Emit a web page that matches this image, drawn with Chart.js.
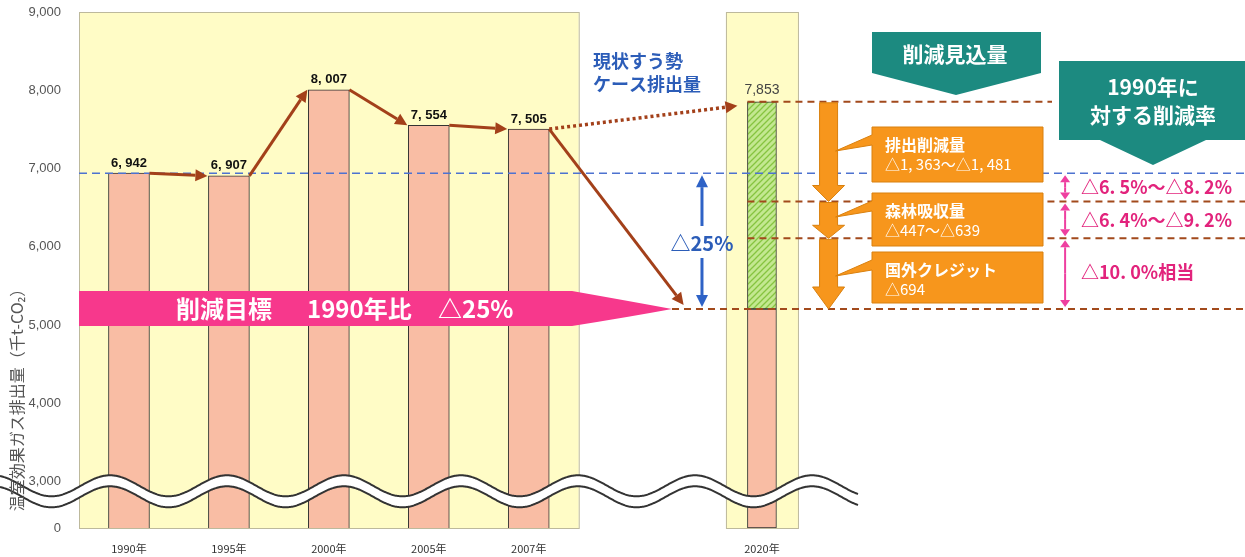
<!DOCTYPE html>
<html lang="ja">
<head>
<meta charset="utf-8">
<script src="https://cdn.jsdelivr.net/npm/chart.js@4.4.0/dist/chart.umd.min.js"></script>
<style>
html, body { margin: 0; padding: 0; background: #fff; }
#wrap { width: 1245px; height: 557px; position: relative; }
</style>
</head>
<body>
<div id="wrap"><canvas id="chart"></canvas></div>
<script>
// ---- data ----
const years = ['1990年', '1995年', '2000年', '2005年', '2007年', '2020年'];
const emissions = [6942, 6907, 8007, 7554, 7505, 7853];
const target2020 = 5207;                      // 1990 x 0.75
const stepLevels = [7853, 6580, 6110, 5207];  // levels after each reduction step
const stepNames = ['排出削減量', '森林吸収量', '国外クレジット'];
const stepAmounts = ['△1, 363～△1, 481', '△447～△639', '△694'];
const rateTexts = ['△6. 5%～△8. 2%', '△6. 4%～△9. 2%', '△10. 0%相当'];
const yTicks = [3000, 4000, 5000, 6000, 7000, 8000, 9000];
const yMin = 2410;   // bottom of the broken axis, labelled 0

// x axis is cut in thin slots so the 2020 column can sit apart
const SLOTS = 35;
const slotOf = years.map((_, i) => (i < 5 ? 1 + 3 * i : 20));
const labels = new Array(SLOTS).fill('');
slotOf.forEach((s, i) => { labels[s] = years[i]; });

const pastData = new Array(SLOTS).fill(null);
for (let i = 0; i < 5; i++) pastData[slotOf[i]] = emissions[i];
const baseData = new Array(SLOTS).fill(null);
baseData[slotOf[5]] = [yMin, target2020];
const upperData = new Array(SLOTS).fill(null);
upperData[slotOf[5]] = [target2020, emissions[5]];

const JP = '"Noto Sans CJK JP", "Noto Sans", sans-serif';

function hatch() {
  const c = document.createElement('canvas');
  c.width = 6; c.height = 6;
  const g = c.getContext('2d');
  g.fillStyle = '#C3E890';
  g.fillRect(0, 0, 6, 6);
  g.strokeStyle = '#86C440';
  g.lineWidth = 1.3;
  g.beginPath();
  g.moveTo(-1, 7); g.lineTo(7, -1);
  g.moveTo(-4, 4); g.lineTo(4, -4);
  g.moveTo(2, 10); g.lineTo(10, 2);
  g.stroke();
  return g.createPattern(c, 'repeat');
}

function arrow(ctx, x1, y1, x2, y2, o) {
  const a = Math.atan2(y2 - y1, x2 - x1);
  const bx = x2 - o.head * Math.cos(a), by = y2 - o.head * Math.sin(a);
  ctx.save();
  ctx.strokeStyle = o.color;
  ctx.fillStyle = o.color;
  ctx.lineWidth = o.width;
  ctx.setLineDash(o.dash || []);
  ctx.beginPath(); ctx.moveTo(x1, y1); ctx.lineTo(bx, by); ctx.stroke();
  ctx.setLineDash([]);
  ctx.beginPath();
  ctx.moveTo(x2, y2);
  ctx.lineTo(bx + o.hw * Math.sin(a), by - o.hw * Math.cos(a));
  ctx.lineTo(bx - o.hw * Math.sin(a), by + o.hw * Math.cos(a));
  ctx.closePath(); ctx.fill();
  ctx.restore();
}

function hline(ctx, x1, x2, y, color, w, dash) {
  ctx.save();
  ctx.strokeStyle = color; ctx.lineWidth = w; ctx.setLineDash(dash);
  ctx.beginPath(); ctx.moveTo(x1, y); ctx.lineTo(x2, y); ctx.stroke();
  ctx.restore();
}

const deco = {
  id: 'deco',
  beforeDatasetsDraw(chart) {
    const { ctx, chartArea: ca } = chart;
    const step = ca.width / SLOTS;
    const xAt = s => ca.left + (s + 0.5) * step;
    ctx.save();
    ctx.fillStyle = '#FFFCC6';
    ctx.strokeStyle = '#BDB99C';
    ctx.lineWidth = 1;
    // past years column
    const r1 = ca.left + 15 * step;
    ctx.fillRect(ca.left, ca.top, r1 - ca.left, ca.bottom - ca.top);
    ctx.strokeRect(ca.left + 0.5, ca.top + 0.5, r1 - ca.left, ca.bottom - ca.top);
    // 2020 column
    const c2 = xAt(slotOf[5]);
    ctx.fillRect(c2 - 36, ca.top, 72, ca.bottom - ca.top);
    ctx.strokeRect(c2 - 36 + 0.5, ca.top + 0.5, 72, ca.bottom - ca.top);
    ctx.restore();
  },
  afterDatasetsDraw(chart) {
    const { ctx, chartArea: ca, scales: { y } } = chart;
    const step = ca.width / SLOTS;
    const xAt = s => ca.left + (s + 0.5) * step;
    const bars = chart.getDatasetMeta(0).data;
    const top2020 = chart.getDatasetMeta(2).data[slotOf[5]];
    const yBase = y.getPixelForValue(emissions[0]);
    const yT = y.getPixelForValue(target2020);
    const lv = stepLevels.map(v => y.getPixelForValue(v));
    const brown = '#A3401A';

    // 1990 reference line
    hline(ctx, ca.left, ca.right, yBase, '#4D72D0', 1.5, [8, 5]);

    // dashed step levels
    const bx0 = top2020.x - top2020.width / 2;
    hline(ctx, bx0, 1052, lv[0], '#A24A1C', 2, [7, 5]);
    hline(ctx, bx0, ca.right, lv[1], '#A24A1C', 2, [7, 5]);
    hline(ctx, bx0, ca.right, lv[2], '#A24A1C', 2, [7, 5]);
    hline(ctx, xAt(17.3), ca.right, lv[3], '#A24A1C', 2, [7, 5]);

    // pink target banner
    ctx.save();
    ctx.fillStyle = '#F7388C';
    ctx.beginPath();
    ctx.moveTo(ca.left, yT - 18);
    ctx.lineTo(xAt(14.3), yT - 18);
    ctx.quadraticCurveTo(xAt(16), yT - 8, xAt(17.3), yT);
    ctx.quadraticCurveTo(xAt(16), yT + 8, xAt(14.3), yT + 17);
    ctx.lineTo(ca.left, yT + 17);
    ctx.closePath();
    ctx.fill();
    ctx.fillStyle = '#fff';
    ctx.font = 'bold 24px ' + JP;
    ctx.textBaseline = 'middle';
    ctx.textAlign = 'left';
    ctx.fillText('削減目標', 176, yT);
    ctx.fillText('1990年比', 307, yT);
    ctx.fillText('△25%', 438, yT);
    ctx.restore();

    // brown trend arrows between bars
    const bo = { color: brown, width: 3, head: 12, hw: 6 };
    for (let i = 0; i < 4; i++) {
      const a = bars[slotOf[i]], b = bars[slotOf[i + 1]];
      arrow(ctx, a.x + a.width / 2, a.y, b.x - b.width / 2 - 1, b.y, bo);
    }
    const last = bars[slotOf[4]];
    arrow(ctx, last.x + last.width / 2, last.y, bx0 - 10, top2020.y + 4,
      { color: brown, width: 3.5, head: 12, hw: 6, dash: [3, 3] });
    arrow(ctx, last.x + last.width / 2, last.y, xAt(17.65), yT - 4, bo);

    // value labels
    ctx.save();
    ctx.fillStyle = '#111';
    ctx.font = 'bold 13px "Liberation Sans Narrow", "Liberation Sans", sans-serif';
    ctx.textAlign = 'center';
    ctx.textBaseline = 'middle';
    for (let i = 0; i < 5; i++) {
      const b = bars[slotOf[i]];
      ctx.fillText(emissions[i].toLocaleString('en-US').replace(',', ', '), b.x, b.y - 10);
    }
    ctx.fillStyle = '#444';
    ctx.font = '14px "Liberation Sans", sans-serif';
    ctx.fillText(emissions[5].toLocaleString('en-US'), top2020.x, top2020.y - 12);
    ctx.restore();

    // blue "business as usual" text
    ctx.save();
    ctx.fillStyle = '#2C5DB8';
    ctx.font = 'bold 18px ' + JP;
    ctx.textBaseline = 'middle';
    ctx.fillText('現状すう勢', 593, 61);
    ctx.fillText('ケース排出量', 593, 84);
    // △25% double arrow
    const ba = { color: '#2E62C6', width: 3, head: 12, hw: 6 };
    const ax = xAt(18.2);
    arrow(ctx, ax, 226, ax, yBase + 2, ba);
    arrow(ctx, ax, 258, ax, yT - 2, ba);
    ctx.font = 'bold 20px ' + JP;
    ctx.textAlign = 'center';
    ctx.fillText('△25%', ax, 243);
    ctx.restore();

    // orange step arrows + callout boxes
    const ox = xAt(22);
    const heads = [16, 13, 22];
    const boxes = [[127, 182], [193, 246], [252, 303]];
    ctx.save();
    ctx.fillStyle = '#F7961C';
    ctx.strokeStyle = '#D9800E';
    ctx.lineWidth = 1;
    for (let i = 0; i < 3; i++) {
      const t = lv[i] + 1, b = lv[i + 1], hs = b - heads[i];
      ctx.beginPath();
      ctx.moveTo(ox - 9, t); ctx.lineTo(ox + 9, t); ctx.lineTo(ox + 9, hs);
      ctx.lineTo(ox + 16, hs); ctx.lineTo(ox, b); ctx.lineTo(ox - 16, hs);
      ctx.lineTo(ox - 9, hs); ctx.closePath();
      ctx.fill(); ctx.stroke();
    }
    for (let i = 0; i < 3; i++) {
      const [t, b] = boxes[i];
      ctx.beginPath();
      ctx.moveTo(872, t); ctx.lineTo(1043, t); ctx.lineTo(1043, b); ctx.lineTo(872, b);
      ctx.lineTo(872, t + 18); ctx.lineTo(ox + 7, t + 24); ctx.lineTo(872, t + 8);
      ctx.closePath();
      ctx.fill(); ctx.stroke();
    }
    ctx.fillStyle = '#fff';
    ctx.textBaseline = 'middle';
    for (let i = 0; i < 3; i++) {
      const t = boxes[i][0];
      ctx.font = 'bold 16px ' + JP;
      ctx.fillText(stepNames[i], 885, t + 18);
      ctx.font = '15px ' + JP;
      ctx.fillText(stepAmounts[i], 885, t + 37);
    }
    ctx.restore();

    // teal header arrows
    ctx.save();
    ctx.fillStyle = '#1C8A80';
    ctx.beginPath();
    ctx.moveTo(872, 32); ctx.lineTo(1041, 32); ctx.lineTo(1041, 73);
    ctx.lineTo(956, 95); ctx.lineTo(872, 73); ctx.closePath(); ctx.fill();
    ctx.beginPath();
    ctx.moveTo(1059, 61); ctx.lineTo(1250, 61); ctx.lineTo(1250, 140);
    ctx.lineTo(1206, 140); ctx.lineTo(1153, 165); ctx.lineTo(1100, 140);
    ctx.lineTo(1059, 140); ctx.closePath(); ctx.fill();
    ctx.fillStyle = '#fff';
    ctx.font = 'bold 21px ' + JP;
    ctx.textAlign = 'center';
    ctx.textBaseline = 'middle';
    ctx.fillText('削減見込量', 955, 54);
    ctx.fillText('1990年に', 1153, 87);
    ctx.fillText('対する削減率', 1153, 115);
    ctx.restore();

    // pink rate arrows and texts
    const px = xAt(29.1);
    const pa = { color: '#EE3FA0', width: 2, head: 7, hw: 5 };
    const spans = [[yBase, lv[1]], [lv[1], lv[2]], [lv[2], lv[3]]];
    ctx.save();
    ctx.fillStyle = '#E2237C';
    ctx.font = 'bold 18px ' + JP;
    ctx.textBaseline = 'middle';
    spans.forEach(([a, b], i) => {
      const m = (a + b) / 2;
      arrow(ctx, px, m, px, a + 2, pa);
      arrow(ctx, px, m, px, b - 2, pa);
      ctx.fillText(rateTexts[i], 1081, i === 2 ? m - 1 : m);
    });
    ctx.restore();
  },
  afterDraw(chart) {
    const { ctx, scales: { y } } = chart;
    // axis break wave
    const c = y.getPixelForValue(3000) + 4;
    const f = x => c - 10.5 * Math.cos(2 * Math.PI * (x - 110) / 117);
    ctx.save();
    ctx.beginPath();
    for (let x = 0; x <= 858; x++) x ? ctx.lineTo(x, f(x)) : ctx.moveTo(x, f(x));
    for (let x = 858; x >= 0; x--) ctx.lineTo(x, f(x) + 11);
    ctx.closePath();
    ctx.fillStyle = '#fff';
    ctx.fill();
    ctx.strokeStyle = '#333';
    ctx.lineWidth = 2;
    ctx.beginPath();
    for (let x = 0; x <= 858; x++) x ? ctx.lineTo(x, f(x)) : ctx.moveTo(x, f(x));
    ctx.stroke();
    ctx.beginPath();
    for (let x = 0; x <= 858; x++) x ? ctx.lineTo(x, f(x) + 11) : ctx.moveTo(x, f(x) + 11);
    ctx.stroke();

    // y axis title
    ctx.translate(17, 396);
    ctx.rotate(-Math.PI / 2);
    ctx.fillStyle = '#555';
    ctx.font = '16px ' + JP;
    ctx.textAlign = 'center';
    ctx.textBaseline = 'middle';
    ctx.fillText('温室効果ガス排出量（千t-CO₂）', 0, 0);
    ctx.restore();
  }
};

new Chart(document.getElementById('chart'), {
  type: 'bar',
  data: {
    labels: labels,
    datasets: [
      { data: pastData, backgroundColor: '#F9BDA4', borderColor: '#333', borderWidth: 1,
        borderSkipped: false, barThickness: 41, grouped: false },
      { data: baseData, backgroundColor: '#F9BDA4', borderColor: '#333', borderWidth: 1,
        borderSkipped: false, barThickness: 29, grouped: false },
      { data: upperData, backgroundColor: hatch(), borderColor: '#333', borderWidth: 1,
        borderSkipped: false, barThickness: 29, grouped: false }
    ]
  },
  options: {
    responsive: true,
    maintainAspectRatio: false,
    animation: false,
    layout: { padding: { top: 12, left: 0, right: 0, bottom: 0 } },
    plugins: { legend: { display: false }, tooltip: { enabled: false } },
    scales: {
      x: {
        offset: true,
        grid: { display: false },
        border: { display: false },
        ticks: { autoSkip: false, maxRotation: 0, padding: 6, color: '#333',
          font: { size: 11, family: JP } },
        afterFit(s) { s.height = 29; s.paddingLeft = 0; s.paddingRight = 0; }
      },
      y: {
        min: yMin,
        max: 9000,
        grid: { display: false },
        border: { color: '#B3AF94' },
        afterBuildTicks(s) { s.ticks = [yMin, ...yTicks].map(v => ({ value: v })); },
        ticks: {
          padding: 10,
          color: '#555',
          font: { size: 13, family: '"Liberation Sans", sans-serif' },
          callback: v => (v === yMin ? '0' : v.toLocaleString('en-US'))
        },
        afterFit(s) { s.width = 79; s.paddingTop = 0; s.paddingBottom = 0; }
      }
    }
  },
  plugins: [deco]
});
</script>
</body>
</html>
